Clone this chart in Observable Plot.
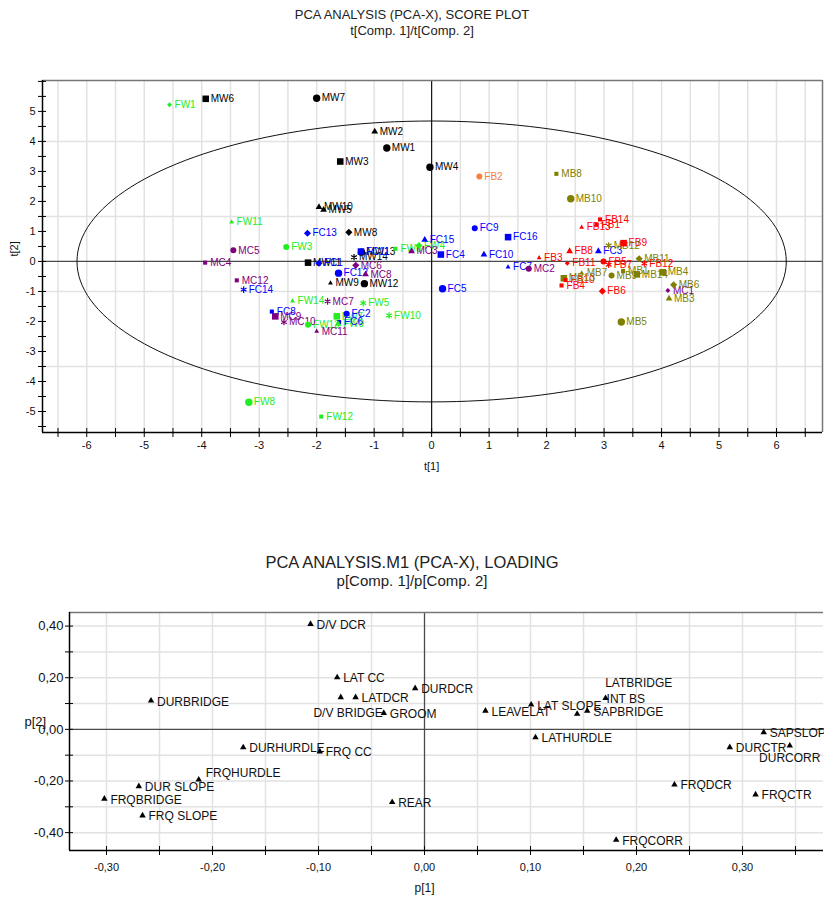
<!DOCTYPE html>
<html><head><meta charset="utf-8">
<script src="https://cdn.jsdelivr.net/npm/d3@7"></script>
<script src="https://cdn.jsdelivr.net/npm/@observablehq/plot@0.6"></script>
<style>
body{margin:0;background:#fff;font-family:"Liberation Sans",Arial,sans-serif;}
#page{position:relative;width:824px;height:901px;overflow:hidden;background:#fff;}
.t{position:absolute;left:0;width:824px;text-align:center;color:#222;white-space:nowrap;line-height:1;}
#score{position:absolute;left:0;top:40px;}
#loading{position:absolute;left:0;top:595px;}
</style></head><body>
<div id="page">
<div class="t" style="top:8px;font-size:13px">PCA ANALYSIS (PCA-X), SCORE PLOT</div>
<div class="t" style="top:24px;font-size:13px">t[Comp. 1]/t[Comp. 2]</div>
<div id="score"></div>
<div class="t" style="top:554px;font-size:16.5px">PCA ANALYSIS.M1 (PCA-X), LOADING</div>
<div class="t" style="top:573px;font-size:15px">p[Comp. 1]/p[Comp. 2]</div>
<div id="loading"></div>
</div>
<script>
// ================= SCORE PLOT DATA =================
const obsNames = [
 "MW1","MW2","MW3","MW4","MW5","MW6","MW7","MW8","MW9","MW10","MW11","MW12","MW13","MW14",
 "FW1","FW3","FW4","FW5","FW6","FW7","FW8","FW9","FW10","FW11","FW12","FW13","FW14",
 "MC1","MC2","MC3","MC4","MC5","MC6","MC7","MC8","MC9","MC10","MC11","MC12",
 "FC1","FC2","FC3","FC4","FC5","FC6","FC7","FC8","FC9","FC10","FC11","FC12","FC13","FC14","FC15","FC16",
 "FB1","FB2","FB3","FB4","FB5","FB6","FB7","FB8","FB9","FB10","FB11","FB12","FB13","FB14",
 "MB13","MB1","MB3","MB4","MB5","MB6","MB7","MB8","MB9","MB10","MB11","MB12","MB14"
];
const obsT1 = [
 -0.78,-0.99,-1.59,-0.03,-1.88,-3.93,-2.00,-1.44,-1.76,-1.96,-2.15,-1.17,-1.22,-1.35,
 -4.56,-2.53,-0.22,-1.19,-0.63,-1.65,-3.18,-1.63,-0.74,-3.48,-1.92,-2.15,-2.42,
 4.11,1.69,-0.35,-3.94,-3.45,-1.32,-1.81,-1.15,-2.72,-2.57,-2.00,-3.39,
 -1.96,-1.48,2.90,0.16,0.19,-1.61,1.33,-2.78,0.75,0.91,-1.23,-1.62,-2.16,-3.27,-0.12,1.33,
 2.87,0.83,1.87,2.26,2.99,2.97,3.08,2.40,3.34,2.33,2.36,3.70,2.61,2.93,
 2.30,3.33,4.13,4.02,3.30,4.21,2.61,2.17,3.13,2.42,3.61,3.08,3.57
];
const obsT2 = [
 3.78,4.33,3.33,3.14,1.72,5.42,5.44,0.97,-0.72,1.81,-0.04,-0.74,0.31,0.14,
 5.22,0.48,0.53,-1.39,0.42,-1.83,-4.69,-2.08,-1.80,1.31,-5.17,-2.11,-1.32,
 -0.97,-0.24,0.34,-0.04,0.37,-0.13,-1.33,-0.43,-1.83,-2.02,-2.33,-0.63,
 -0.06,-1.74,0.34,0.23,-0.91,-2.02,-0.19,-1.67,1.11,0.23,0.33,-0.39,0.94,-0.94,0.72,0.81,
 1.22,2.83,0.12,-0.80,0.00,-0.99,-0.11,0.34,0.61,-0.62,-0.06,-0.07,1.14,1.40,
 -0.56,-0.32,-1.24,-0.36,-2.02,-0.78,-0.39,2.92,-0.47,2.09,0.09,0.53,-0.43
];
const obsClass = [
 "MW","MW","MW","MW","MW","MW","MW","MW","MW","MW","MW","MW","MW","MW",
 "FW","FW","FW","FW","FW","FW","FW","FW","FW","FW","FW","FW","FW",
 "MC","MC","MC","MC","MC","MC","MC","MC","MC","MC","MC","MC",
 "FC","FC","FC","FC","FC","FC","FC","FC","FC","FC","FC","FC","FC","FC","FC","FC",
 "FB","FB2","FB","FB","FB","FB","FB","FB","FB","FB","FB","FB","FB","FB",
 "MB","MB","MB","MB","MB","MB","MB","MB","MB","MB","MB","MB","MB"
];
// marker category per observation (C/c circle, S/s square, T/t triangle, D/d diamond, A asterisk)
const obsMarker = [
 "C","T","S","C","T","S","C","D","t","T","S","C","C","A",
 "d","c","D","A","s","S","C","T","A","t","s","c","t",
 "d","c","T","s","c","D","A","T","S","A","t","s",
 "D","c","T","S","C","s","t","s","c","T","S","C","D","A","T","S",
 "s","c","t","s","c","D","A","T","S","s","d","A","t","s",
 "S","s","T","S","C","D","t","s","c","C","D","A","S"
];
const scoreXTickLabels = [-6,-5,-4,-3,-2,-1,0,1,2,3,4,5,6];
const scoreYTickLabels = [-5,-4,-3,-2,-1,0,1,2,3,4,5];
const scoreYGridLines = [-3.5,-1,1.5,4];
const ellipseSemiAxes = [6.17, 4.68];

// ================= LOADING PLOT DATA =================
const varNames = ["D/V DCR","LAT CC","D/V BRIDGE","LATDCR","GROOM","DURDCR","DURBRIDGE","DURHURDLE","FRQ CC","FRQHURDLE",
 "DUR SLOPE","FRQBRIDGE","FRQ SLOPE","REAR","LEAVELAT","LAT SLOPE","LATBRIDGE","SAPBRIDGE","INT BS","LATHURDLE",
 "SAPSLOPE","DURCTR","DURCORR","FRQDCR","FRQCTR","FRQCORR"];
const varP1 = [-0.1075,-0.0824,-0.079,-0.065,-0.0384,-0.0088,-0.258,-0.171,-0.0988,-0.213,
 -0.2695,-0.302,-0.266,-0.0305,0.0575,0.1006,0.144,0.1535,0.1708,0.1047,
 0.320,0.288,0.3446,0.2358,0.3123,0.1808];
const varP2 = [0.408,0.201,0.124,0.124,0.063,0.159,0.111,-0.070,-0.086,-0.195,
 -0.2205,-0.269,-0.334,-0.282,0.072,0.0955,0.0595,0.072,0.121,-0.031,
 -0.0116,-0.0696,-0.063,-0.214,-0.2526,-0.428];
const loadXTickLabels = [-0.3,-0.2,-0.1,0,0.1,0.2,0.3];
const loadYTickLabels = [-0.4,-0.2,0,0.2,0.4];

// ================= STYLES =================
const FONT = '"Liberation Sans", Arial, sans-serif';
const classColor = {MW:"#000000", FW:"#22ec22", MC:"#800080", FC:"#0000ff", FB:"#ff0000", FB2:"#f7803c", MB:"#808000"};
const markerStyle = {
  C:{symbol:"circle", r:3.7}, c:{symbol:"circle", r:3.0},
  S:{symbol:"square", r:3.7}, s:{symbol:"square", r:2.3},
  T:{symbol:"triangle", r:2.5}, t:{symbol:"triangle", r:1.8},
  D:{symbol:"diamond2", r:3.2}, d:{symbol:"diamond2", r:2.2},
  A:{symbol:"asterisk", r:3.1, stroke:true}
};
const fmtComma = v => v.toFixed(2).replace(".", ",");

// ================= SCORE PLOT =================
const scores = obsNames.map((n,i)=>({name:n, t1:obsT1[i], t2:obsT2[i], cls:obsClass[i], mk:obsMarker[i]}));
const sW = 824, sH = 440, sML = 42, sMR = 2, sMT = 40, sMB = 48;
const sx = [-6.77, 6.80], sy = [-5.70, 6.03];
const sxPx = (sx[1]-sx[0])/(sW-sML-sMR), syPx = (sy[1]-sy[0])/(sH-sMT-sMB);
const sMinorX = d3.range(-6.5, 6.51, 0.5);
const sMinorY = d3.range(-5.5, 6.01, 0.5);
const ellipsePts = d3.range(0, 361, 2).map(a => ({x: ellipseSemiAxes[0]*Math.cos(a*Math.PI/180), y: ellipseSemiAxes[1]*Math.sin(a*Math.PI/180)}));

const scoreDots = Object.entries(markerStyle).map(([k, st]) => {
  const sub = scores.filter(d => d.mk === k);
  return st.stroke
    ? Plot.dot(sub, {x:"t1", y:"t2", symbol: st.symbol, r: st.r, stroke: d => classColor[d.cls], strokeWidth: 1.2, fill: "none"})
    : Plot.dot(sub, {x:"t1", y:"t2", symbol: st.symbol, r: st.r, fill: d => classColor[d.cls], stroke: "none"});
});

const scorePlot = Plot.plot({
  width: sW, height: sH, marginLeft: sML, marginRight: sMR, marginTop: sMT, marginBottom: sMB,
  x: {domain: sx, axis: null}, y: {domain: sy, axis: null},
  color: {type: "identity"},
  style: {fontFamily: FONT, background: "transparent", overflow: "visible"},
  marks: [
    Plot.ruleX(sMinorX.filter(v => v !== 0), {stroke: "#e2e2e2", strokeWidth: 1.5}),
    Plot.ruleY(scoreYGridLines, {stroke: "#e2e2e2", strokeWidth: 1.5}),
    Plot.ruleY([0], {stroke: "#4a4a4a", strokeWidth: 1.2}),
    Plot.ruleX([0], {stroke: "#111", strokeWidth: 1.2}),
    Plot.line(ellipsePts, {x: "x", y: "y", stroke: "#111", strokeWidth: 1}),
    Plot.ruleY([sy[1]], {stroke: "#777", strokeWidth: 1.5}),
    Plot.ruleX([sx[1]], {stroke: "#777", strokeWidth: 1.5}),
    Plot.ruleY([sy[0]], {stroke: "#000", strokeWidth: 1.5}),
    Plot.ruleX([sx[0]], {stroke: "#000", strokeWidth: 1.5}),
    Plot.ruleX(sMinorX, {x: d => d, y1: sy[0] - 5*syPx, y2: sy[0] + 4*syPx, stroke: "#000"}),
    Plot.ruleY(sMinorY, {y: d => d, x1: sx[0] - 4*sxPx, x2: sx[0] + 4*sxPx, stroke: "#000"}),
    Plot.text(scoreXTickLabels, {x: d => d, y: sy[0], dy: 13, text: d => String(d), fontSize: 11, fill: "#111"}),
    Plot.text(scoreYTickLabels, {x: sx[0], y: d => d, dx: -7, text: d => String(d), textAnchor: "end", fontSize: 11, fill: "#111"}),
    Plot.text(["t[1]"], {x: 0, y: sy[0], dy: 34, text: d => d, fontSize: 11, fill: "#111"}),
    Plot.text(["t[2]"], {frameAnchor: "left", dx: -28, text: d => d, rotate: -90, fontSize: 11, fill: "#111"}),
    Plot.text(scores, {x: "t1", y: "t2", text: "name", fill: d => classColor[d.cls], textAnchor: "start", dx: 5, fontSize: 10}),
    ...scoreDots
  ]
});
document.getElementById("score").appendChild(scorePlot);

// ================= LOADING PLOT =================
const loads = varNames.map((n,i)=>({name:n, p1:varP1[i], p2:varP2[i]}));
const lW = 824, lH = 306, lML = 69, lMR = 1, lMT = 17, lMB = 51;
const lx = [-0.3349, 0.3764], ly = [-0.4692, 0.4526];
const lxPx = (lx[1]-lx[0])/(lW-lML-lMR), lyPx = (ly[1]-ly[0])/(lH-lMT-lMB);
const lMinorX = d3.range(-6, 8, 1).map(k => k*0.05);
const lMinorY = d3.range(-4, 5, 1).map(k => k*0.1);
const labelPlace = {
  "D/V BRIDGE": {textAnchor: "end", dx: 42, dy: 16},
  "LATBRIDGE": {textAnchor: "start", dx: 28, dy: -31},
  "DURCORR": {textAnchor: "middle", dx: 0, dy: 13},
  "FRQHURDLE": {textAnchor: "start", dx: 7, dy: -7},
  "INT BS": {textAnchor: "start", dx: 1, dy: 1}
};
const specialLabels = Object.entries(labelPlace).map(([name, o]) =>
  Plot.text(loads.filter(d => d.name === name), {x: "p1", y: "p2", text: "name", fontSize: 12, fill: "#111", ...o}));

const loadPlot = Plot.plot({
  width: lW, height: lH, marginLeft: lML, marginRight: lMR, marginTop: lMT, marginBottom: lMB,
  x: {domain: lx, axis: null}, y: {domain: ly, axis: null},
  style: {fontFamily: FONT, background: "transparent", overflow: "visible"},
  marks: [
    Plot.ruleX(lMinorX.filter(v => Math.abs(v) > 1e-9), {stroke: "#e2e2e2", strokeWidth: 1.5}),
    Plot.ruleY(lMinorY.filter(v => Math.abs(v) > 1e-9), {stroke: "#e2e2e2", strokeWidth: 1.5}),
    Plot.ruleY([0], {stroke: "#4a4a4a", strokeWidth: 1.3}),
    Plot.ruleX([0], {stroke: "#4a4a4a", strokeWidth: 1.3}),
    Plot.ruleY([ly[1]], {stroke: "#777", strokeWidth: 1.5}),
    Plot.ruleY([ly[0]], {stroke: "#000", strokeWidth: 1.5}),
    Plot.ruleX([lx[0]], {stroke: "#000", strokeWidth: 1.5}),
    Plot.ruleX(lMinorX, {x: d => d, y1: ly[0] - 5*lyPx, y2: ly[0] + 4*lyPx, stroke: "#000"}),
    Plot.ruleY(lMinorY, {y: d => d, x1: lx[0] - 4*lxPx, x2: lx[0] + 4*lxPx, stroke: "#000"}),
    Plot.text(loadXTickLabels, {x: d => d, y: ly[0], dy: 17, text: fmtComma, fontSize: 11, fill: "#111"}),
    Plot.text(loadYTickLabels, {x: lx[0], y: d => d, dx: -6, text: fmtComma, textAnchor: "end", fontSize: 13, fill: "#111"}),
    Plot.text(["p[1]"], {x: 0, y: ly[0], dy: 38, text: d => d, fontSize: 12, fill: "#111"}),
    Plot.text(["p[2]"], {frameAnchor: "left", dx: -45, dy: -10, text: d => d, fontSize: 13, fill: "#111"}),
    Plot.text(loads.filter(d => !(d.name in labelPlace)), {x: "p1", y: "p2", text: "name", textAnchor: "start", dx: 6, dy: 1, fontSize: 12, fill: "#111"}),
    ...specialLabels,
    Plot.dot(loads, {x: "p1", y: "p2", symbol: "triangle", r: 2.4, fill: "#000", stroke: "none"})
  ]
});
document.getElementById("loading").appendChild(loadPlot);
</script>
</body></html>
